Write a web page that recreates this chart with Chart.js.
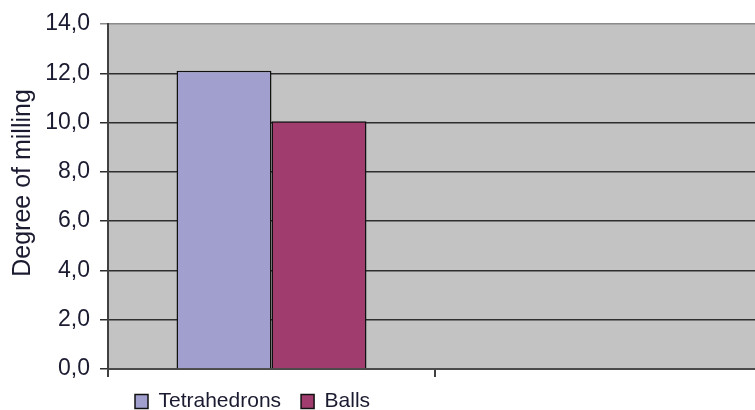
<!DOCTYPE html>
<html>
<head>
<meta charset="utf-8">
<script src="https://cdn.jsdelivr.net/npm/chart.js@4.4.1/dist/chart.umd.min.js"></script>
<style>
    html, body { margin: 0; padding: 0; background: #fff; overflow: hidden; }
    #wrap { width: 755px; height: 410px; overflow: hidden; position: relative; }
    #box { position: absolute; left: 0; top: 0; width: 770px; height: 422px; }
</style>
</head>
<body>
<div id="wrap"><div id="box"><canvas id="chart"></canvas></div></div>
<script>
// data
const categories = ['', ''];
const tetrahedrons = [12.1, null];
const balls = [10.05, null];
const yTicks = [0, 2, 4, 6, 8, 10, 12, 14];
const axisTitle = 'Degree of milling';

const FONT = "'Liberation Sans', Arial, sans-serif";
const TEXT = '#1a1a30';

// grey plot area
const plotBg = {
    id: 'plotBg',
    beforeDraw(chart) {
        const { ctx, chartArea: a } = chart;
        ctx.save();
        ctx.fillStyle = '#c3c3c3';
        ctx.fillRect(a.left, a.top, a.right - a.left, a.bottom - a.top);
        ctx.restore();
    },
};

// rotated axis title, sits a bit above the plot centre like the original
const yTitle = {
    id: 'yTitle',
    afterDraw(chart) {
        const { ctx } = chart;
        ctx.save();
        ctx.translate(23, 183);
        ctx.rotate(-Math.PI / 2);
        ctx.font = `25px ${FONT}`;
        ctx.fillStyle = TEXT;
        ctx.textAlign = 'center';
        ctx.textBaseline = 'middle';
        ctx.fillText(axisTitle, 0, 0);
        ctx.restore();
    },
};

// push the legend in from the left edge
const legendShift = {
    id: 'legendShift',
    afterLayout(chart) {
        if (chart.legend) chart.legend.left = 115;
    },
};

new Chart(document.getElementById('chart'), {
    type: 'bar',
    data: {
        labels: categories,
        datasets: [
            {
                label: 'Tetrahedrons',
                data: tetrahedrons,
                backgroundColor: '#a09fce',
                borderColor: '#111',
                borderWidth: 1.5,
            },
            {
                label: 'Balls',
                data: balls,
                backgroundColor: '#a03c6e',
                borderColor: '#111',
                borderWidth: 1.5,
            },
        ],
    },
    options: {
        responsive: true,
        maintainAspectRatio: false,
        animation: false,
        layout: { padding: { top: 24, right: 8, bottom: 0, left: 0 } },
        datasets: { bar: { barPercentage: 1, categoryPercentage: 0.581 } },
        plugins: {
            legend: {
                position: 'bottom',
                align: 'start',
                labels: {
                    color: TEXT,
                    font: { family: FONT, size: 21 },
                    boxWidth: 13,
                    boxHeight: 14,
                    padding: 20,
                },
            },
            tooltip: { enabled: false },
        },
        scales: {
            x: {
                grid: {
                    offset: true,
                    drawOnChartArea: false,
                    drawTicks: true,
                    tickLength: 8,
                    color: '#404040',
                    lineWidth: 2,
                },
                border: { display: true, color: '#4a4a4a', width: 2 },
                ticks: { display: false },
                afterFit: (s) => { s.height = 2; },
            },
            y: {
                min: 0,
                max: 14,
                afterBuildTicks: (s) => { s.ticks = yTicks.map(v => ({ value: v })); },
                grid: {
                    color: (c) => (c.tick && c.tick.value === 14 ? '#8a8a8a' : '#2e2e2e'),
                    lineWidth: 1.5,
                    tickLength: 8,
                },
                border: { display: true, color: '#404040', width: 2 },
                ticks: {
                    color: TEXT,
                    font: { family: FONT, size: 23 },
                    padding: 10,
                    callback: (v) => Number(v).toFixed(1).replace('.', ','),
                },
                afterFit: (s) => { s.width = 108; },
            },
        },
    },
    plugins: [plotBg, yTitle, legendShift],
});
</script>
</body>
</html>
